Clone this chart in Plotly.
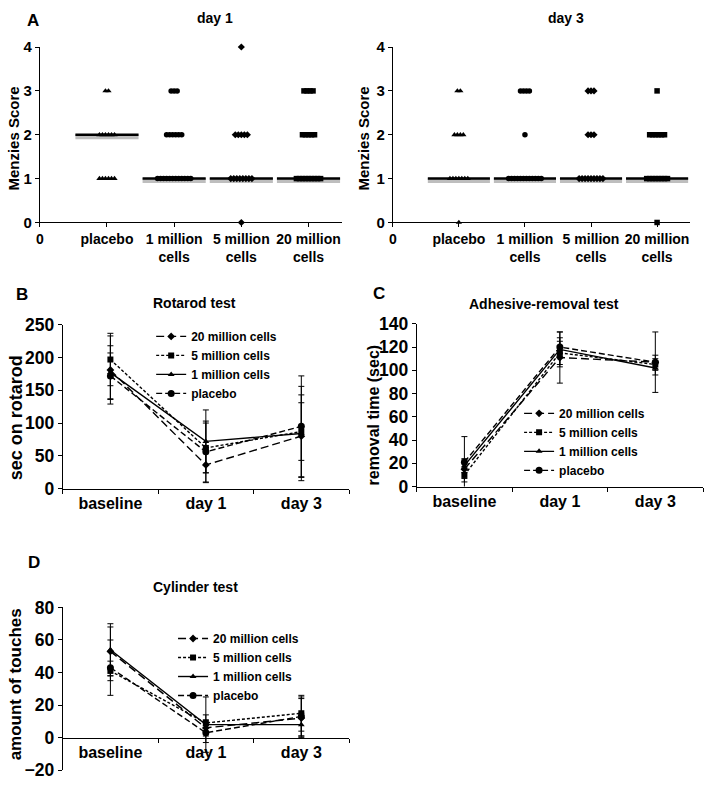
import plotly.graph_objects as go

# ---------------- Panel A data (Menzies score dot plots) ----------------
groups = ["placebo", "1 million<br>cells", "5 million<br>cells", "20 million<br>cells"]
group_symbols = ["triangle-up", "circle", "diamond", "square"]
scores = [0, 1, 2, 3, 4]
# number of animals at each score 0..4, per group
day1_counts = [
    [0, 6, 6, 2, 0],    # placebo
    [0, 12, 6, 3, 0],   # 1 million
    [1, 8, 5, 0, 1],    # 5 million
    [0, 9, 5, 4, 0],    # 20 million
]
day3_counts = [
    [1, 7, 4, 2, 0],
    [0, 12, 1, 4, 0],
    [0, 9, 3, 3, 0],
    [1, 8, 6, 1, 0],
]
day1_medians = [2, 1, 1, 1]
day3_medians = [1, 1, 1, 1]

# ---------------- Panels B-D data ----------------
timepoints = ["baseline", "day 1", "day 3"]
series_names = ["20 million cells", "5 million cells", "1 million cells", "placebo"]
series_symbols = ["diamond", "square", "triangle-up", "circle"]
series_dash = ["8px,4px", "3px,2px", "solid", "6px,3px"]

rotarod_mean = [[181, 36, 80], [197, 62, 87], [177, 72, 84], [172, 56, 95]]
rotarod_sd = [[52, 26, 63], [40, 38, 44], [41, 48, 72], [35, 47, 77]]

adhesive_mean = [[15, 111, 107], [10, 115, 105], [18, 118, 102], [21, 120, 107]]
adhesive_sd = [[8, 22, 6], [6, 10, 5], [6, 15, 6], [22, 8, 26]]

cylinder_mean = [[53, 6, 12], [41, 9, 15], [54, 8, 8], [43, 3, 13]]
cylinder_sd = [[15, 5, 12], [6, 5, 11], [16, 17, 7], [17, 6, 12]]

W, H = 712, 788
FONT = "Arial, 'Liberation Sans', sans-serif"


def px_x(p):
    return p / W


def px_y(p):
    return 1 - p / H


fig = go.Figure()

DOT_STEP = 0.045


def add_dotplot(counts, medians, xa, ya):
    for gi, cnts in enumerate(counts):
        xs, ys = [], []
        for s, n in zip(scores, cnts):
            for i in range(n):
                xs.append(gi + 1 + (i - (n - 1) / 2) * DOT_STEP)
                ys.append(s)
        # median bar (shadow + line)
        m = medians[gi]
        fig.add_trace(go.Scatter(x=[gi + 1 - 0.47, gi + 1 + 0.47], y=[m - 0.045, m - 0.045],
                                 mode="lines", line=dict(color="rgba(110,110,110,0.45)", width=5),
                                 xaxis=xa, yaxis=ya, showlegend=False, hoverinfo="skip"))
        fig.add_trace(go.Scatter(x=[gi + 1 - 0.47, gi + 1 + 0.47], y=[m, m],
                                 mode="lines", line=dict(color="black", width=2.5),
                                 xaxis=xa, yaxis=ya, showlegend=False, hoverinfo="skip"))
        fig.add_trace(go.Scatter(x=xs, y=ys, mode="markers",
                                 marker=dict(symbol=group_symbols[gi], size=5.5, color="black"),
                                 xaxis=xa, yaxis=ya, showlegend=False, cliponaxis=False))


add_dotplot(day1_counts, day1_medians, "x", "y")
add_dotplot(day3_counts, day3_medians, "x2", "y2")


def add_lines(means, sds, xa, ya, legend):
    for k in range(len(series_names)):
        fig.add_trace(go.Scatter(
            x=timepoints, y=means[k], name=series_names[k], mode="lines+markers",
            line=dict(color="black", width=1.4, dash=series_dash[k]),
            marker=dict(symbol=series_symbols[k], size=7 if series_symbols[k] == "circle" else 6,
                        color="black"),
            error_y=dict(type="data", array=sds[k], visible=True, color="black",
                         thickness=1, width=3),
            xaxis=xa, yaxis=ya, legend=legend, cliponaxis=False))


add_lines(rotarod_mean, rotarod_sd, "x3", "y3", "legend")
add_lines(adhesive_mean, adhesive_sd, "x4", "y4", "legend2")
add_lines(cylinder_mean, cylinder_sd, "x5", "y5", "legend3")

tickfont_a = dict(family=FONT, size=14, color="black", weight="bold")
tickfont_ay = dict(family=FONT, size=15, color="black", weight="bold")
tickfont_bx = dict(family=FONT, size=16, color="black", weight="bold")
tickfont_by = dict(family=FONT, size=17.5, color="black", weight="bold")

common_axis = dict(showline=True, linecolor="black", linewidth=1, showgrid=False,
                   zeroline=False, ticks="outside", tickcolor="black", ticklen=4)

layout = dict(
    width=W, height=H, margin=dict(l=0, r=0, t=0, b=0),
    paper_bgcolor="white", plot_bgcolor="white",
    font=dict(family=FONT, color="black"),
    # panel A day 1
    xaxis=dict(**common_axis, domain=[px_x(36), px_x(340)], range=[0, 4.5],
               tickvals=[0, 1, 2, 3, 4], ticktext=["0"] + groups, tickfont=tickfont_a,
               tickangle=0, anchor="y"),
    yaxis=dict(**common_axis, domain=[px_y(218), px_y(38)], range=[0, 4],
               tickvals=scores, tickfont=tickfont_ay, anchor="x"),
    # panel A day 3
    xaxis2=dict(**common_axis, domain=[px_x(391), px_x(690)], range=[0, 4.5],
                tickvals=[0, 1, 2, 3, 4], ticktext=["0"] + groups, tickfont=tickfont_a,
                tickangle=0, anchor="y2"),
    yaxis2=dict(**common_axis, domain=[px_y(218), px_y(38)], range=[0, 4],
                tickvals=scores, tickfont=tickfont_ay, anchor="x2"),
    # panel B
    xaxis3=dict(**common_axis, domain=[px_x(59), px_x(347)], type="category",
                categoryorder="array", categoryarray=timepoints, range=[-0.5, 2.5],
                tickson="boundaries", tickfont=tickfont_bx, anchor="y3"),
    yaxis3=dict(**common_axis, domain=[px_y(491), px_y(323)], range=[0, 250], dtick=50,
                tickfont=tickfont_by, anchor="x3"),
    # panel C
    xaxis4=dict(**common_axis, domain=[px_x(415), px_x(703)], type="category",
                categoryorder="array", categoryarray=timepoints, range=[-0.5, 2.5],
                tickson="boundaries", tickfont=tickfont_bx, anchor="y4"),
    yaxis4=dict(**common_axis, domain=[px_y(489), px_y(322)], range=[0, 140], dtick=20,
                tickfont=tickfont_by, anchor="x4"),
    # panel D
    xaxis5=dict(**common_axis, domain=[px_x(59), px_x(347)], type="category",
                categoryorder="array", categoryarray=timepoints, range=[-0.5, 2.5],
                tickson="boundaries", tickfont=tickfont_bx, anchor="free",
                position=px_y(747)),
    yaxis5=dict(**common_axis, domain=[px_y(780), px_y(613)], range=[-20, 80], dtick=20,
                tickfont=tickfont_by, anchor="x5"),
)

leg_common = dict(font=dict(family=FONT, size=12, color="black", weight="bold"),
                  bgcolor="rgba(0,0,0,0)", tracegroupgap=0, itemwidth=30,
                  xanchor="left", yanchor="top", traceorder="normal")
layout["legend"] = dict(**leg_common, x=px_x(148), y=px_y(320))
layout["legend2"] = dict(**leg_common, x=px_x(518), y=px_y(399))
layout["legend3"] = dict(**leg_common, x=px_x(170), y=px_y(630))

fig.update_layout(**layout)


def ann(text, x, y, size, angle=0):
    fig.add_annotation(text=text, x=px_x(x), y=px_y(y), xref="paper", yref="paper",
                       showarrow=False, textangle=angle, xanchor="center", yanchor="middle",
                       font=dict(family=FONT, size=size, color="black", weight="bold"))


# panel letters
ann("A", 29, 11, 17)
ann("B", 18, 292, 17)
ann("C", 377, 291, 17)
ann("D", 30, 567, 17)
# titles
ann("day 1", 212, 8, 14)
ann("day 3", 565, 8, 14)
ann("Rotarod test", 192, 301, 14)
ann("Adhesive-removal test", 543, 302, 14)
ann("Cylinder test", 193, 592, 14)
# y-axis titles
ann("Menzies Score", 10, 132, 15, -90)
ann("Menzies Score", 362, 132, 15, -90)
ann("sec on rotarod", 12, 418, 18, -90)
ann("removal time (sec)", 372, 415, 16, -90)
ann("amount of touches", 12, 692, 17, -90)

# pin the plot to the page's top-left corner (remove the default body margin)
fig.write_html(
    "out.html",
    config={"displayModeBar": False},
    post_script=(
        "document.documentElement.style.margin='0px';"
        "document.body.style.margin='0px';document.body.style.padding='0px';"
        "var gd=document.getElementById('{plot_id}');"
        "gd.style.position='absolute';gd.style.left='0px';gd.style.top='0px';"
    ),
)
